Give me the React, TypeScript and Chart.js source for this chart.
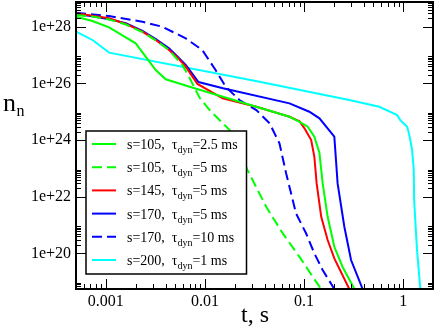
import React, { useEffect, useRef } from 'react';
import { Chart, registerables } from 'chart.js';
Chart.register(...registerables);

// ---- axis ranges and tick labels ----
const X_MIN = 5e-4;
const X_MAX = 2;
const Y_MIN = 5.5e18;
const Y_MAX = 7.5e28;
const xMajorTicks = [0.001, 0.01, 0.1, 1];
const xTickLabels = ['0.001', '0.01', '0.1', '1'];
const yMajorTicks = [1e20, 1e22, 1e24, 1e26, 1e28];
const yTickLabels = ['1e+20', '1e+22', '1e+24', '1e+26', '1e+28'];

// ---- series (t in s, n_n) ----
const tS105T25 = [5e-4, 7.33e-4, 1.08e-3, 2.0e-3, 3.19e-3, 4.02e-3, 7.0e-3, 0.0713, 0.09, 0.109, 0.127, 0.143, 0.154, 0.173, 0.202, 0.245, 0.322];
const nS105T25 = [2.28e28, 1.6e28, 9.6e27, 2.6e27, 2.97e26, 1.4e26, 7.6e25, 6.65e24, 4.4e24, 2.95e24, 1.31e24, 3.47e23, 3.0e22, 1.95e21, 1.7e20, 3.3e19, 5.5e18];

const tS105T5 = [5e-4, 7.33e-4, 1.08e-3, 1.59e-3, 2.34e-3, 3.19e-3, 4.34e-3, 5.92e-3, 6.9e-3, 8.05e-3, 8.85e-3, 0.01115, 0.01472, 0.019, 0.0223, 0.0269, 0.0415, 0.061, 0.09, 0.1224, 0.1486];
const nS105T5 = [2.6e28, 2.3e28, 1.81e28, 1.2e28, 6.5e27, 3.3e27, 1.51e27, 4.45e26, 1.73e26, 5.85e25, 3.1e25, 1.15e25, 4.3e24, 1.77e24, 4.5e23, 8.7e22, 4.4e21, 5.05e20, 7.5e19, 1.48e19, 5.5e18];

const tS145T5 = [5e-4, 7.33e-4, 1.08e-3, 1.59e-3, 2.34e-3, 3.19e-3, 4.34e-3, 5.27e-3, 6.4e-3, 8.4e-3, 0.0151, 0.033, 0.0713, 0.09, 0.101, 0.118, 0.127, 0.134, 0.149, 0.173, 0.202, 0.286];
const nS145T5 = [3.0e28, 2.46e28, 2.0e28, 1.26e28, 6.7e27, 3.4e27, 1.51e27, 8.3e26, 3.9e26, 9.6e25, 2.98e25, 1.5e25, 6.65e24, 4.6e24, 2.6e24, 1e24, 2.57e23, 2.95e22, 1.95e21, 2.95e20, 6.6e19, 5.5e18];

const tS170T5 = [5e-4, 7.33e-4, 1.08e-3, 1.59e-3, 2.34e-3, 3.19e-3, 4.34e-3, 5.27e-3, 6.4e-3, 8.6e-3, 0.0152, 0.0713, 0.113, 0.143, 0.202, 0.21, 0.218, 0.255, 0.298, 0.39];
const nS170T5 = [2.83e28, 2.35e28, 1.84e28, 1.35e28, 7.2e27, 3.7e27, 1.74e27, 9.0e26, 4.5e26, 1.12e26, 6.7e25, 1.98e25, 1e25, 5.85e24, 1.31e24, 1.95e23, 2.95e22, 8.7e20, 5.8e19, 5.5e18];

const tS170T10 = [5e-4, 1.08e-3, 2.34e-3, 3.73e-3, 6.4e-3, 9.4e-3, 0.0128, 0.0162, 0.0223, 0.033, 0.0449, 0.0565, 0.066, 0.083, 0.105, 0.127, 0.154, 0.202];
const nS170T10 = [3.15e28, 2.4e28, 1.5e28, 1e28, 3.9e27, 1.51e27, 2.97e26, 7.6e25, 2.6e25, 1.15e25, 3.9e24, 7.6e23, 6.6e22, 2.57e21, 5e20, 1e20, 2.57e19, 5.5e18];

const tS200T1 = [5e-4, 7.33e-4, 1.08e-3, 0.0325, 0.286, 0.574, 0.87, 0.933, 1.097, 1.14, 1.18, 1.23, 1.28, 1.29, 1.38, 1.49];
const nS200T1 = [6.8e27, 3.42e27, 1.22e27, 1.22e26, 2.6e25, 1.5e25, 7.6e24, 5.1e24, 2.95e24, 1.77e24, 1e24, 4.5e23, 8.7e22, 7.6e21, 1.3e20, 5.5e18];

// ---- legend ----
const legendS = ['105', '105', '145', '170', '170', '200'];
const legendTau = ['2.5', '5', '5', '5', '10', '1'];

const SERIF = '"Liberation Serif", "Times New Roman", serif';

function pts(t: number[], n: number[]) {
  return t.map((x, i) => ({ x, y: n[i] }));
}

function zeroPad(scale: any) {
  scale.paddingTop = 0;
  scale.paddingBottom = 0;
  scale.paddingLeft = 0;
  scale.paddingRight = 0;
}

export default function App() {
  const ref = useRef<HTMLCanvasElement | null>(null);
  useEffect(() => {
    const canvas = ref.current;
    if (!canvas) return;

    const series = [
      { t: tS105T25, n: nS105T25, color: '#00ff00', dash: [] as number[] },
      { t: tS105T5, n: nS105T5, color: '#00ff00', dash: [10, 5] },
      { t: tS145T5, n: nS145T5, color: '#ff0000', dash: [] as number[] },
      { t: tS170T5, n: nS170T5, color: '#0000ff', dash: [] as number[] },
      { t: tS170T10, n: nS170T10, color: '#0000ff', dash: [10, 5] },
      { t: tS200T1, n: nS200T1, color: '#00ffff', dash: [] as number[] },
    ];

    const framePlugin = {
      id: 'frameTicks',
      afterDatasetsDraw(chart: any) {
        const ctx = chart.ctx;
        const { left, right, top, bottom } = chart.chartArea;
        const xs = chart.scales.x;
        const ys = chart.scales.y;
        ctx.save();
        ctx.strokeStyle = '#000';
        ctx.lineWidth = 1;
        // x ticks
        for (let d = -4; d <= 0; d++) {
          for (let k = 1; k <= 9; k++) {
            const v = k * Math.pow(10, d);
            if (v < X_MIN * 0.999 || v > X_MAX * 1.001) continue;
            const px = Math.round(xs.getPixelForValue(v)) + 0.5;
            const len = k === 1 ? 10 : 5;
            ctx.beginPath();
            ctx.moveTo(px, bottom); ctx.lineTo(px, bottom - len);
            ctx.moveTo(px, top); ctx.lineTo(px, top + len);
            ctx.stroke();
          }
        }
        // y ticks
        for (let e = 18; e <= 28; e += 2) {
          for (let k = 1; k <= 9; k++) {
            const v = k * Math.pow(10, e);
            if (v < Y_MIN * 0.999 || v > Y_MAX * 1.001) continue;
            const py = Math.round(ys.getPixelForValue(v)) + 0.5;
            const len = k === 1 ? 10 : 5;
            ctx.beginPath();
            ctx.moveTo(left, py); ctx.lineTo(left + len, py);
            ctx.moveTo(right, py); ctx.lineTo(right - len, py);
            ctx.stroke();
          }
        }
        // frame
        ctx.lineWidth = 2;
        ctx.strokeRect(left, top, right - left, bottom - top);

        // axis titles
        ctx.fillStyle = '#000';
        ctx.textBaseline = 'alphabetic';
        ctx.textAlign = 'left';
        ctx.font = `26px ${SERIF}`;
        ctx.fillText('n', 3, 111);
        ctx.font = `16px ${SERIF}`;
        ctx.fillText('n', 16.5, 116);
        ctx.font = `24px ${SERIF}`;
        ctx.textAlign = 'center';
        ctx.fillText('t, s', 255, 322);

        // legend
        const bx0 = 86, by0 = 131, bx1 = 246.5, by1 = 274;
        ctx.fillStyle = '#fff';
        ctx.fillRect(bx0, by0, bx1 - bx0, by1 - by0);
        ctx.lineWidth = 1.5;
        ctx.strokeStyle = '#000';
        ctx.strokeRect(bx0, by0, bx1 - bx0, by1 - by0);
        chart.data.datasets.forEach((ds: any, i: number) => {
          const y = 144 + i * 23.2;
          ctx.save();
          ctx.strokeStyle = ds.borderColor;
          ctx.lineWidth = 2;
          ctx.setLineDash(ds.borderDash || []);
          ctx.beginPath();
          ctx.moveTo(92, y); ctx.lineTo(116, y);
          ctx.stroke();
          ctx.restore();
          ctx.fillStyle = '#000';
          ctx.textAlign = 'left';
          ctx.textBaseline = 'alphabetic';
          let x = 127;
          const base = y + 5;
          ctx.font = `14px ${SERIF}`;
          const part1 = `s=${legendS[i]},  \u03c4`;
          ctx.fillText(part1, x, base);
          x += ctx.measureText(part1).width;
          ctx.font = `10px ${SERIF}`;
          ctx.fillText('dyn', x, base + 4);
          x += ctx.measureText('dyn').width;
          ctx.font = `14px ${SERIF}`;
          ctx.fillText(`=${legendTau[i]} ms`, x, base);
        });
        ctx.restore();
      },
    };

    const chart = new Chart(canvas, {
      type: 'scatter',
      data: {
        datasets: series.map((s, i) => ({
          label: `s=${legendS[i]}, tau_dyn=${legendTau[i]} ms`,
          data: pts(s.t, s.n),
          showLine: true,
          borderColor: s.color,
          backgroundColor: s.color,
          borderWidth: 2,
          borderDash: s.dash,
          pointRadius: 0,
          tension: 0,
        })),
      },
      options: {
        responsive: false,
        animation: false,
        events: [],
        layout: { padding: { left: 0, right: 3, top: 2, bottom: 0 } },
        plugins: { legend: { display: false }, tooltip: { enabled: false }, title: { display: false } },
        scales: {
          x: {
            type: 'logarithmic',
            min: X_MIN,
            max: X_MAX,
            grid: { display: false, drawTicks: false },
            border: { display: false },
            afterBuildTicks: (scale: any) => { scale.ticks = xMajorTicks.map((v) => ({ value: v })); },
            afterFit: (scale: any) => { scale.height = 38; zeroPad(scale); },
            ticks: {
              autoSkip: false,
              maxRotation: 0,
              padding: 3,
              color: '#000',
              font: { family: SERIF, size: 16 },
              callback: (v: any) => { const i = xMajorTicks.findIndex((m) => Math.abs(m - v) / m < 1e-6); return i >= 0 ? xTickLabels[i] : ''; },
            },
          },
          y: {
            type: 'logarithmic',
            min: Y_MIN,
            max: Y_MAX,
            grid: { display: false, drawTicks: false },
            border: { display: false },
            afterBuildTicks: (scale: any) => { scale.ticks = yMajorTicks.map((v) => ({ value: v })); },
            afterFit: (scale: any) => { scale.width = 76; zeroPad(scale); },
            ticks: {
              autoSkip: false,
              padding: 5,
              color: '#000',
              font: { family: SERIF, size: 16 },
              callback: (v: any) => { const i = yMajorTicks.findIndex((m) => Math.abs(m - v) / m < 1e-6); return i >= 0 ? yTickLabels[i] : ''; },
            },
          },
        },
      },
      plugins: [framePlugin],
    } as any);
    return () => chart.destroy();
  }, []);

  return (
    <div style={{ position: 'fixed', left: 0, top: 0, width: 436, height: 327, background: '#fff' }}>
      <canvas ref={ref} width={436} height={327} style={{ display: 'block' }} />
    </div>
  );
}
